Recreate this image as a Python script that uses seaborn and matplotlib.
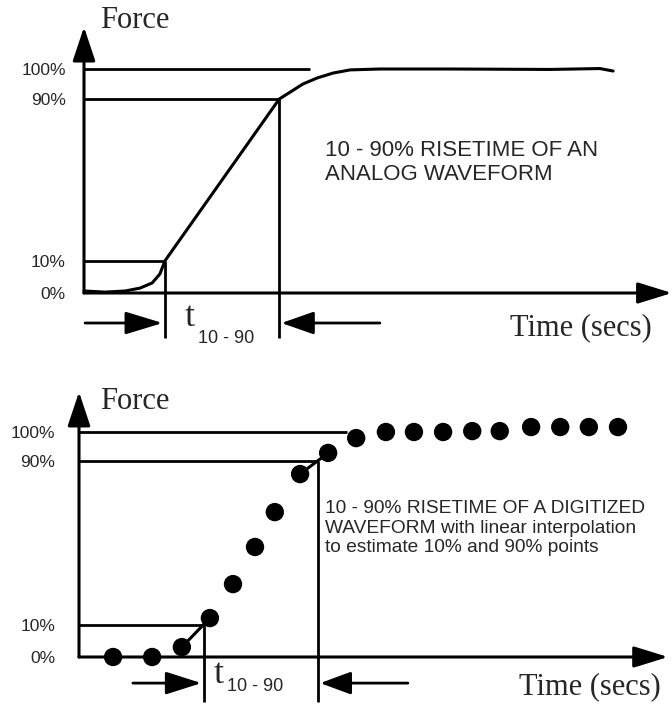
import matplotlib
matplotlib.use('Agg')
import matplotlib.pyplot as plt
import numpy as np
import pandas as pd
import seaborn as sns

# Values (time in arbitrary units, force in drawn units)
level_labels = ['0%', '10%', '90%', '100%']

analog_levels = [0, 14.3, 86.6, 100]
analog_t = [0, 3.8, 7.5, 10.2, 12.4, 13.8, 14.7, 35.5, 37.5, 39.8,
            42.4, 45.3, 48.4, 53.8, 66.5, 84.7, 93.8, 96.2]
analog_force = [0.9, 0.4, 0.9, 2.2, 4.5, 8.5, 14.3, 86.6, 89.7, 93.3,
                96.0, 98.2, 99.6, 100, 100, 99.8, 100.2, 99.1]

digital_levels = [0, 14.4, 87.3, 100]
digital_t = [6.2, 13.3, 18.7, 23.8, 28.0, 32.0, 35.6, 40.2, 45.3, 50.4,
             55.8, 60.9, 66.2, 71.5, 76.5, 82.2, 87.5, 92.7, 98.0]
digital_force = [0, 0, 4.4, 17.3, 32.4, 48.9, 64.4, 81.3, 90.7, 97.3,
                 100, 100, 100, 100.4, 100.4, 102.2, 102.2, 102.2, 102.2]

sns.set_style('white')
plt.rcParams['font.family'] = ['Liberation Sans', 'DejaVu Sans']
SERIF = ['Liberation Serif', 'DejaVu Serif']

W, H = 672, 708
fig = plt.figure(figsize=(W / 100, H / 100), dpi=100)


def make_axes(origin, sx, sy, t_max, f_max):
    # place axes so that the origin of the diagram sits where it is drawn
    ax = fig.add_axes([origin[0] / W, (H - origin[1]) / H,
                       t_max * sx / W, f_max * sy / H])
    ax.set_xlim(0, t_max)
    ax.set_ylim(0, f_max)
    sns.despine(ax=ax, left=True, bottom=True)
    ax.set_xticks([])
    return ax


def arrow(ax, start, end, hl=21, hw=7, lw=2.2):
    ax.annotate('', xy=end, xytext=start, annotation_clip=False,
                arrowprops=dict(arrowstyle=f'-|>,head_length={hl},head_width={hw}',
                                mutation_scale=1, lw=lw, color='black',
                                shrinkA=0, shrinkB=0))


def frame(ax, levels, t_max, f_max, pad):
    arrow(ax, (0, 0), (0, f_max), hl=21, hw=7)
    arrow(ax, (0, 0), (t_max, 0), hl=21, hw=6.5)
    ax.set_yticks(levels, level_labels)
    ax.tick_params(axis='y', length=0, pad=pad, labelsize=12.5)


# ---------------- top: analog waveform ----------------
ax1 = make_axes((84, 293), 5.5, 2.24, 106.9, 118.75)
frame(ax1, analog_levels, 106.9, 118.75, 13)

rise = slice(3, 13)
a_t10 = np.interp(analog_levels[1], analog_force[rise], analog_t[rise])
a_t90 = np.interp(analog_levels[2], analog_force[rise], analog_t[rise])

ax1.hlines(analog_levels[3], 0, 41.1, color='black', lw=2)
ax1.hlines(analog_levels[2], 0, a_t90, color='black', lw=2)
ax1.hlines(analog_levels[1], 0, a_t10, color='black', lw=2)
ax1.vlines([a_t10, a_t90], -20, [analog_levels[1], analog_levels[2]],
           color='black', lw=2, clip_on=False)

df_a = pd.DataFrame({'t': analog_t, 'force': analog_force})
sns.lineplot(data=df_a, x='t', y='force', ax=ax1, color='black', lw=2.2,
             sort=False, estimator=None, clip_on=False)
ax1.set_xlabel('')
ax1.set_ylabel('')

arrow(ax1, (0.2, -13.4), (a_t10 - 0.4, -13.4), hl=23, hw=7, lw=2)
arrow(ax1, (53.8, -13.4), (a_t90 + 0.4, -13.4), hl=20, hw=7, lw=2)

ax1.text(2.9, 118.3, 'Force', family=SERIF, fontsize=22, va='baseline')
ax1.text(103.3, -18.7, 'Time (secs)', family=SERIF, fontsize=22,
         ha='right', va='baseline')
ax1.text(18.3, -14.7, 't', family=SERIF, fontsize=26, va='baseline')
ax1.text(20.7, -20.5, '10 - 90', fontsize=13, va='center')
ax1.text(43.8, 58.3, '10 - 90% RISETIME OF AN\nANALOG WAVEFORM',
         fontsize=16, va='center', linespacing=1.15)

# ---------------- bottom: digitized waveform ----------------
ax2 = make_axes((79, 657), 5.5, 2.25, 107.1, 117.8)
frame(ax2, digital_levels, 107.1, 117.8, 17)

rise = slice(2, 10)
d_t10 = np.interp(digital_levels[1], digital_force[rise], digital_t[rise])
d_t90 = np.interp(digital_levels[2], digital_force[rise], digital_t[rise])

ax2.hlines(digital_levels[3], 0, 48.7, color='black', lw=2)
ax2.hlines(digital_levels[2], 0, d_t90, color='black', lw=2)
ax2.hlines(digital_levels[1], 0, d_t10, color='black', lw=2)
ax2.vlines([d_t10, d_t90], -20, [digital_levels[1], digital_levels[2]],
           color='black', lw=2, clip_on=False)

# linear interpolation segments between the samples around 10% and 90%
for i in (2, 7):
    ax2.plot(digital_t[i:i + 2], digital_force[i:i + 2], color='black', lw=2.2)

df_d = pd.DataFrame({'t': digital_t, 'force': digital_force})
sns.scatterplot(data=df_d, x='t', y='force', ax=ax2, color='black', s=175,
                edgecolor='none', clip_on=False, zorder=5)
ax2.set_xlabel('')
ax2.set_ylabel('')

arrow(ax2, (9.8, -11.6), (d_t10 - 0.4, -11.6), hl=22, hw=7, lw=2)
arrow(ax2, (59.8, -11.6), (d_t90 + 0.4, -11.6), hl=19, hw=7, lw=2)

ax2.text(3.8, 110.2, 'Force', family=SERIF, fontsize=22, va='baseline')
ax2.text(105.8, -16.4, 'Time (secs)', family=SERIF, fontsize=22,
         ha='right', va='baseline')
ax2.text(24.5, -11.6, 't', family=SERIF, fontsize=26, va='baseline')
ax2.text(26.9, -13.3, '10 - 90', fontsize=13, va='center')
ax2.text(44.7, 57.3, '10 - 90% RISETIME OF A DIGITIZED\n'
         'WAVEFORM with linear interpolation\nto estimate 10% and 90% points',
         fontsize=13.8, va='center', linespacing=1.2)

fig.savefig('out.png', dpi=100)
